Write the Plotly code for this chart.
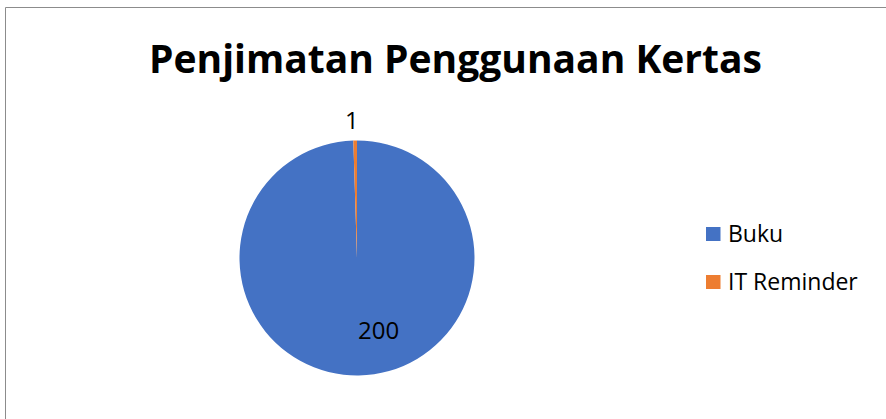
import plotly.graph_objects as go

# Data
categories = ["Buku", "IT Reminder"]
values = [200, 1]
colors = ["#4472C4", "#ED7D31"]
title_text = "Penjimatan Penggunaan Kertas"

W, H = 886, 419
FONT = "'Open Sans', Lato, sans-serif"

def px(x):
    return x / W

def py(y):
    return 1 - y / H

# Pie geometry (pixels)
cx, cy, r = 357, 258, 117.5

fig = go.Figure()
fig.add_trace(go.Pie(
    labels=categories,
    values=values,
    marker=dict(colors=colors, line=dict(color="white", width=0)),
    sort=False,
    direction="clockwise",
    rotation=0,
    textinfo="none",
    hoverinfo="label+value",
    showlegend=False,
    domain=dict(x=[px(cx - r), px(cx + r)], y=[py(cy + r), py(cy - r)]),
))

annotations = []
# Title
annotations.append(dict(
    x=px(455), y=py(57), xref="paper", yref="paper", text="<b>" + title_text + "</b>",
    showarrow=False, font=dict(family=FONT, size=39, color="#000000"),
    xanchor="center", yanchor="middle",
))
# Data labels
label_pos = [(378, 329), (352, 120)]
for (lx, ly), v in zip(label_pos, values):
    annotations.append(dict(
        x=px(lx), y=py(ly), xref="paper", yref="paper", text=str(v),
        showarrow=False, font=dict(family=FONT, size=24, color="#000000"),
        xanchor="center", yanchor="middle",
    ))

shapes = []
# Legend (manual)
legend_y = [234, 282]
for cat, col, ly in zip(categories, colors, legend_y):
    shapes.append(dict(type="rect", xref="paper", yref="paper",
                       x0=px(706), x1=px(720.5), y0=py(ly + 7), y1=py(ly - 7),
                       fillcolor=col, line=dict(width=0)))
    annotations.append(dict(
        x=px(726), y=py(ly - 1), xref="paper", yref="paper", text=cat,
        showarrow=False, font=dict(family=FONT, size=23, color="#000000"),
        xanchor="left", yanchor="middle",
    ))

# Chart border
shapes.append(dict(type="rect", xref="paper", yref="paper",
                   x0=px(5.5), x1=px(888), y0=py(425), y1=py(7.5),
                   line=dict(color="#8c8c8c", width=1), fillcolor="rgba(0,0,0,0)"))

fig.update_layout(
    width=W, height=H,
    margin=dict(l=0, r=0, t=0, b=0),
    paper_bgcolor="white",
    plot_bgcolor="white",
    annotations=annotations,
    shapes=shapes,
    showlegend=False,
)

fig.write_html("out.html", config={"displayModeBar": False},
               post_script="document.body.style.margin='0';document.body.style.overflow='hidden';")
